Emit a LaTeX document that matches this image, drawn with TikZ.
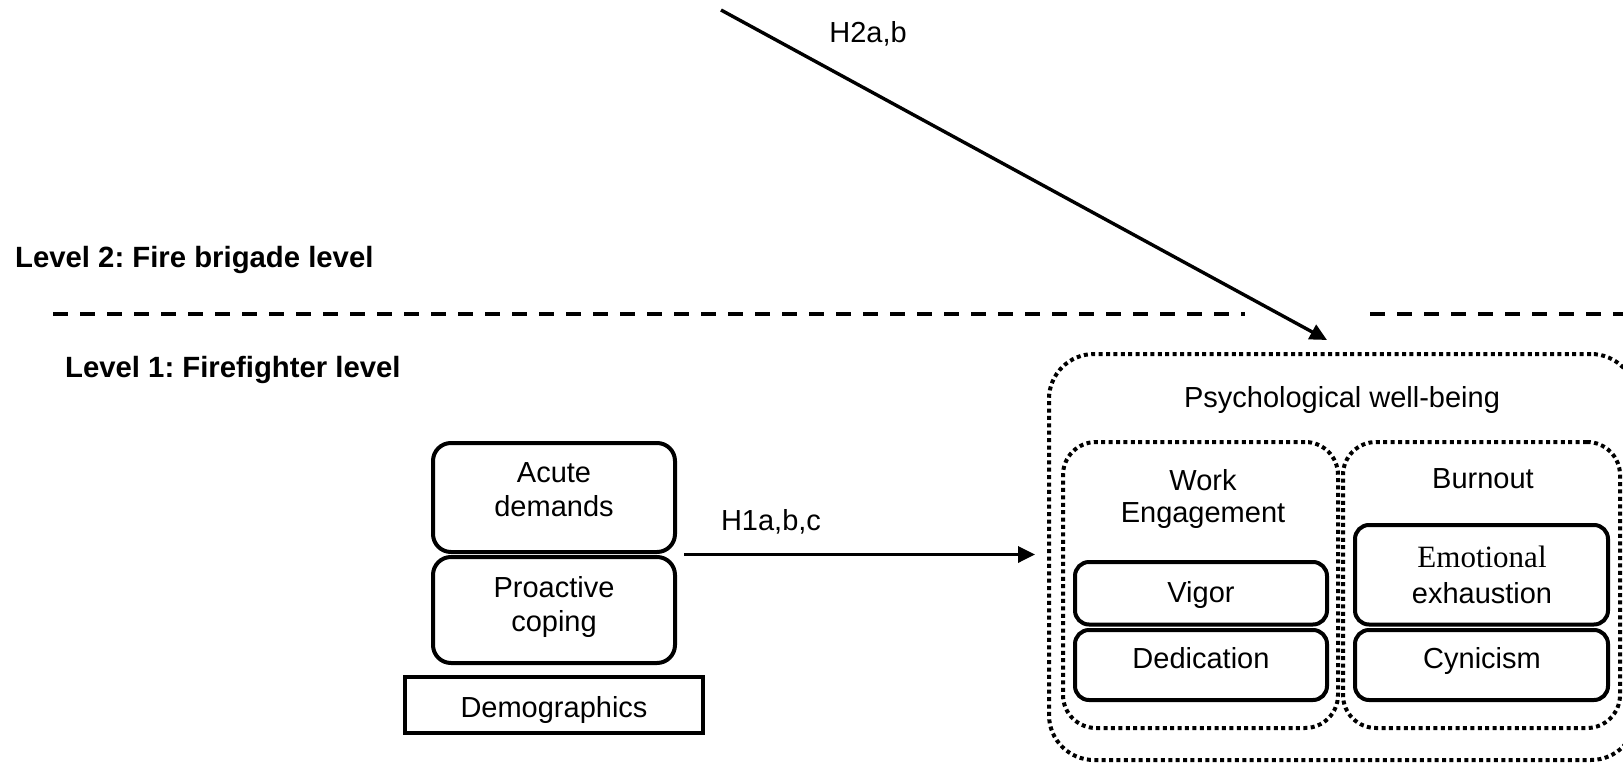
\documentclass[tikz,border=0pt]{standalone}
\usepackage{fontspec}
\setmainfont{Liberation Sans}
\newfontfamily\timesfont{Liberation Serif}
\usetikzlibrary{arrows.meta,calc}
\frenchspacing

\begin{document}
\begin{tikzpicture}[x=1pt,y=-1pt,
  txt/.style={font=\fontsize{29}{34}\selectfont, inner sep=0pt, align=center},
  lvl/.style={font=\fontsize{29.3}{34}\selectfont\bfseries, inner sep=0pt, anchor=base west},
  solidbox/.style={draw, line width=4pt, rounded corners=#1, inner sep=0pt},
  groupbox/.style={draw, line width=4pt, dash pattern=on 4pt off 3.4pt,
                   rounded corners=#1, inner sep=0pt},
  levelline/.style={line width=3.8pt, dash pattern=on 15pt off 12pt},
  conn/.style={line width=3.4pt, -{Triangle[length=17pt,width=16pt]}}
]
\useasboundingbox (0,0) rectangle (1623,763);
\clip (0,0) rectangle (1623,763);

% level labels and the dashed separator
\node[lvl] (lvl2) at (15,267) {Level 2: Fire brigade level};
\node[lvl] (lvl1) at (65,377) {Level 1: Firefighter level};
\draw[levelline] (53,314) -- (1245,314);
\draw[levelline] (1370,314) -- (1623,314);

% individual-level predictors
\node[solidbox=18pt, minimum width=242pt, minimum height=109pt] (acute) at (554,497.5) {};
\node[solidbox=18pt, minimum width=242pt, minimum height=106pt] (proactive) at (554,610) {};
\node[draw, line width=4pt, inner sep=0pt, minimum width=298pt, minimum height=56pt] (demo) at (554,705) {};
\node[txt, anchor=north] (acute-t) at (554,462) {Acute\\demands};
\node[txt, anchor=north] (proactive-t) at (554,576) {Proactive\\coping};
\node[txt, anchor=base] (demo-t) at (554,717) {Demographics};

% outcome: psychological well-being
\node[groupbox=45pt, minimum width=587pt, minimum height=406pt] (pwb) at (1342.5,557) {};
\node[groupbox=33pt, minimum width=275pt, minimum height=286pt] (we) at (1200.5,585) {};
\node[groupbox=33pt, minimum width=277pt, minimum height=286pt] (bo) at (1481.5,585) {};
\node[txt, anchor=base] (pwb-t) at (1342,407) {Psychological well-being};
\node[txt, anchor=north, font=\fontsize{29}{32}\selectfont] (we-t) at (1203,469) {Work\\Engagement};
\node[txt, anchor=base] (bo-t) at (1483,488) {Burnout};

\node[solidbox=14pt, minimum width=252pt, minimum height=62.5pt] (vigor) at (1201,593.25) {};
\node[solidbox=14pt, minimum width=252pt, minimum height=70pt] (dedic) at (1201,665) {};
\node[solidbox=14pt, minimum width=253pt, minimum height=99.5pt] (emot) at (1481.5,574.75) {};
\node[solidbox=14pt, minimum width=253pt, minimum height=70pt] (cyn) at (1481.5,665) {};
\node[txt, anchor=base] (vigor-t) at (1201,602) {Vigor};
\node[txt, anchor=base] (dedic-t) at (1201,668) {Dedication};
\node[txt, anchor=north, font=\fontsize{29}{36}\selectfont] (emot-t) at (1482,546)
  {{\timesfont\fontsize{31}{36}\selectfont Emotional}\\exhaustion};
\node[txt, anchor=base] (cyn-t) at (1482,668) {Cynicism};

% hypothesised paths
\coordinate (h1from) at ($(acute.south east)!0.5!(proactive.north east)+(7,0)$);
\draw[conn] (h1from) -- ([xshift=-12pt]h1from -| pwb.west);
\node[txt, anchor=base] (h1) at (771,530) {H1a,b,c};

\coordinate (h2from) at (721,10);
\draw[conn] (h2from) -- ($(pwb.north)+(-15.5,-12)$);
\node[txt, anchor=base] (h2) at (868,42) {H2a,b};
\end{tikzpicture}
\end{document}
